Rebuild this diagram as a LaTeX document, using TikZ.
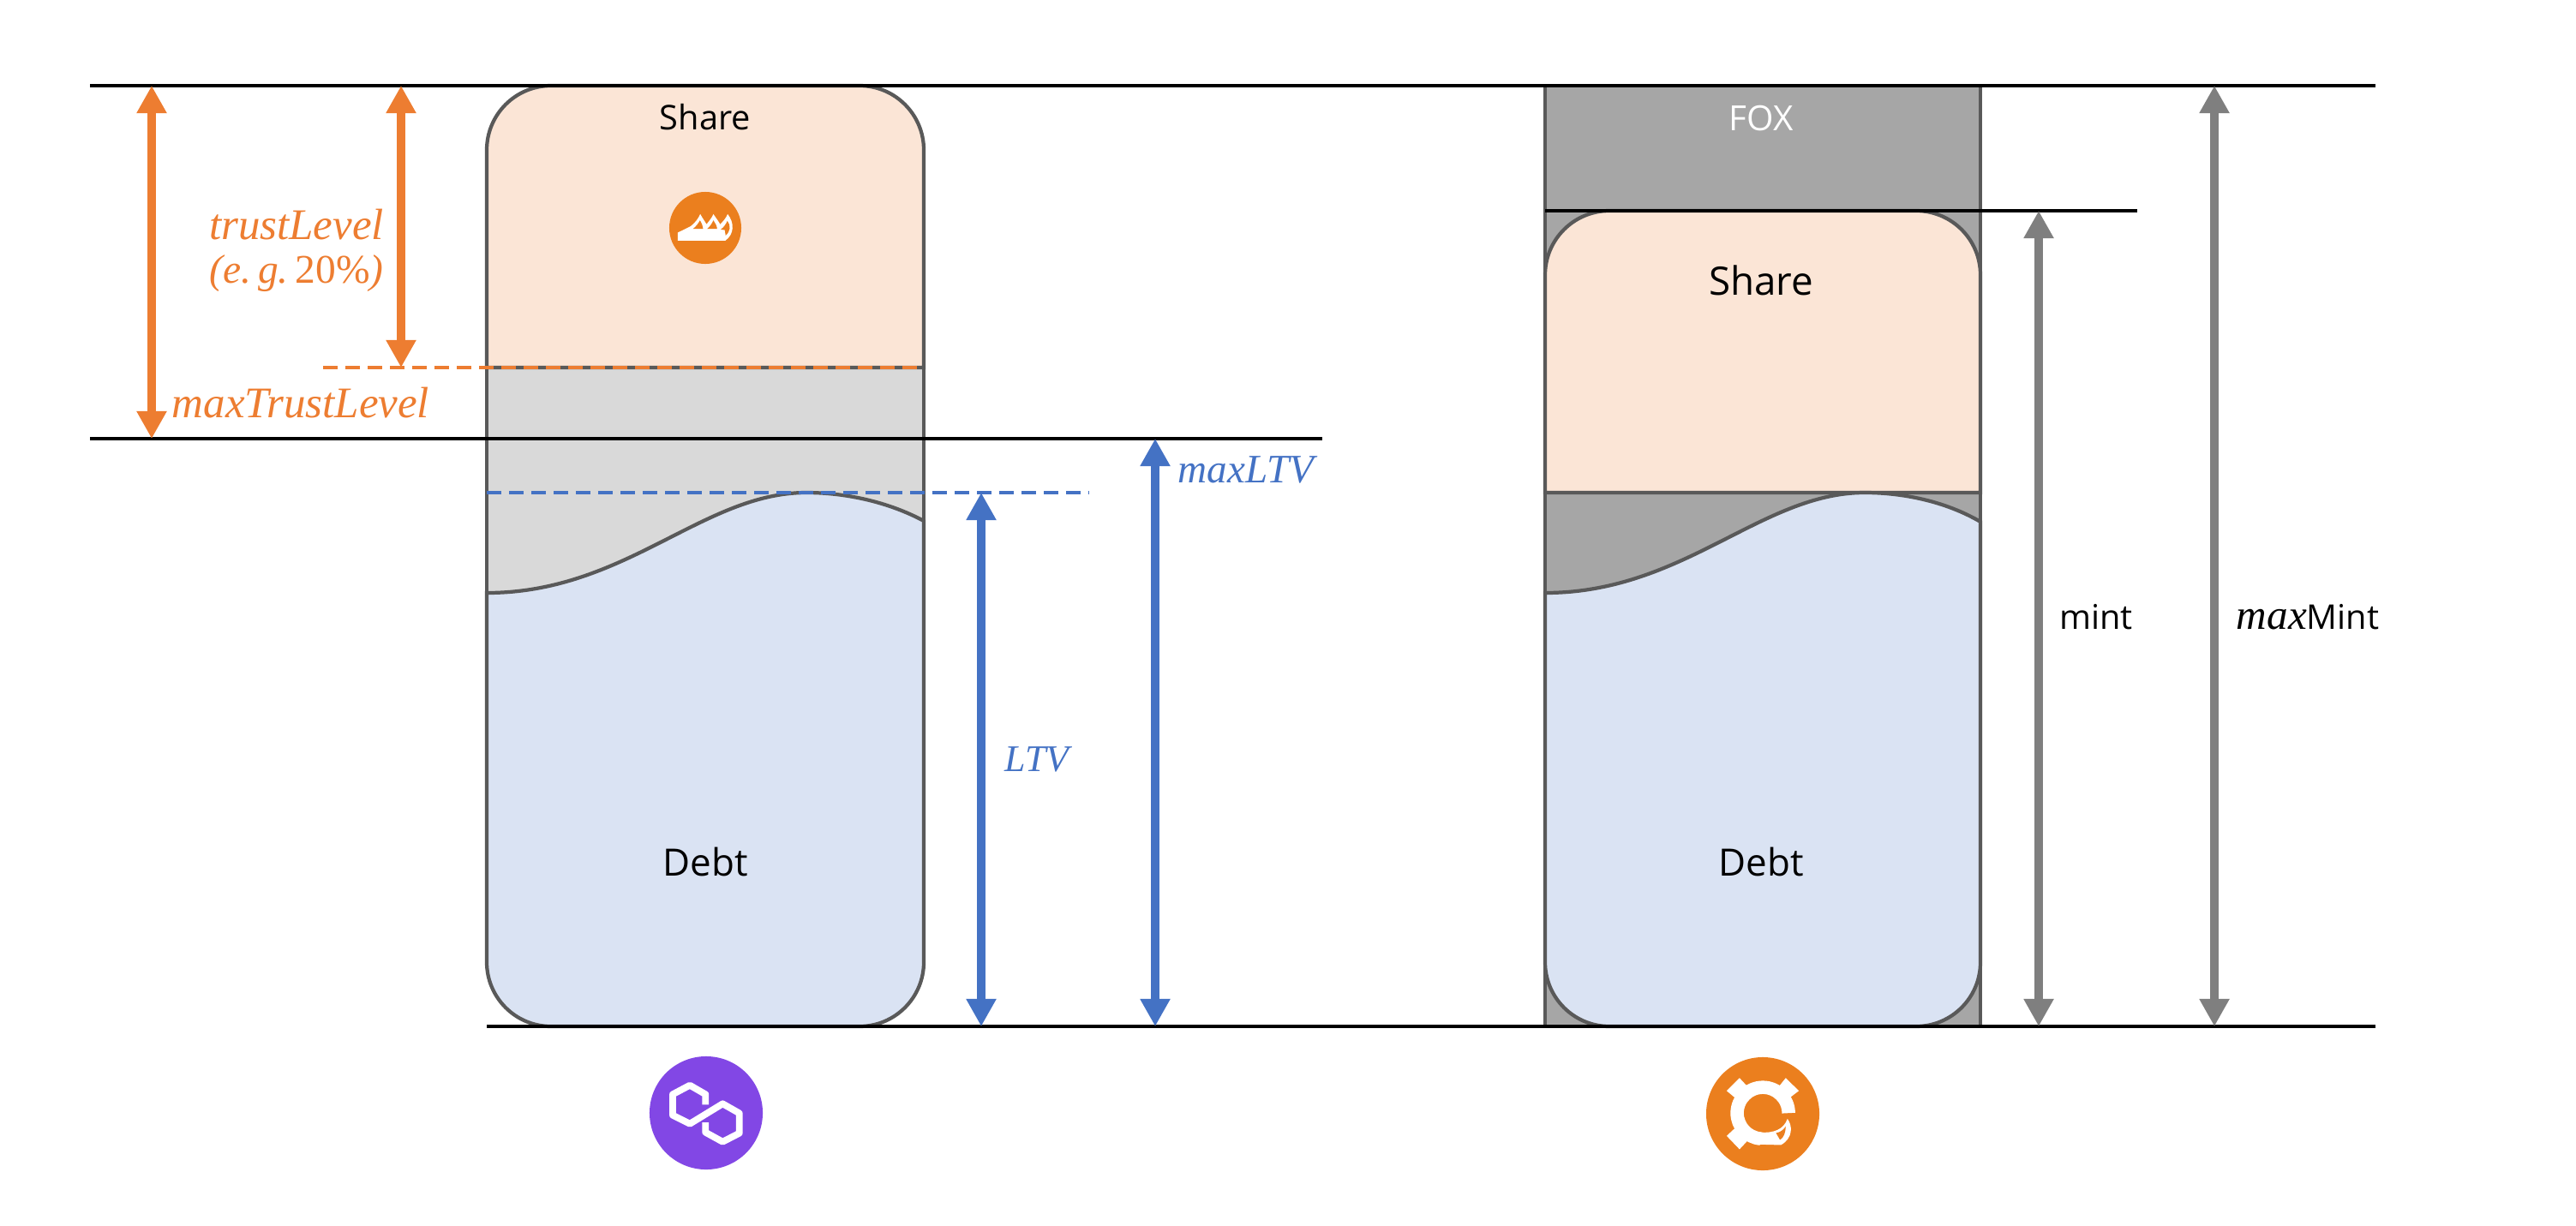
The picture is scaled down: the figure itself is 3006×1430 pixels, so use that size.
\documentclass[tikz,border=0pt]{standalone}
\usepackage{fontspec}
\setmainfont{Open Sans}
\newfontfamily\mathface{Liberation Serif}
\usetikzlibrary{arrows.meta, positioning}
\definecolor{shareFill}{HTML}{FBE5D6}
\definecolor{debtFill}{HTML}{DAE3F3}
\definecolor{bufferFill}{HTML}{D9D9D9}
\definecolor{foxFill}{HTML}{A6A6A6}
\definecolor{barEdge}{HTML}{595959}
\definecolor{orangeAccent}{HTML}{ED7D31}
\definecolor{blueAccent}{HTML}{4472C4}
\definecolor{grayAccent}{HTML}{7F7F7F}
\definecolor{burnOrange}{HTML}{EB7F1E}
\definecolor{polyPurple}{HTML}{8247E5}

\begin{document}
\begin{tikzpicture}[
          x=0.01cm, y=-0.01cm,
          edge/.style={draw=barEdge, line width=1.2pt},
          level/.style={draw=black, line width=1.3pt},
          guide/.style={line width=1.1pt, dash pattern=on 0.17cm off 0.09cm},
          span/.style={{Triangle[length=0.32cm, width=0.33cm]}-{Triangle[length=0.32cm, width=0.33cm]}, line width=0.105cm},
          tag/.style={font=\fontsize{12.5}{15}\selectfont, text=black, inner sep=0pt},
          mathtag/.style={font=\mathface\itshape\fontsize{14.5}{15.5}\selectfont, align=center, inner sep=0pt},
          badge/.style={circle, minimum size=#1, inner sep=0pt, draw=none}
        ]
        \useasboundingbox (0,0) rectangle (3006,1430);

        % left bar
        \filldraw[edge, fill=bufferFill] (568,429) rectangle (1078,700);
        \filldraw[edge, fill=shareFill] (568,429) [rounded corners=0.75cm] -- (568,100) -- (1078,100) [sharp corners] -- (1078,429) -- cycle;
        \filldraw[edge, fill=debtFill] (568,692) .. controls (730,692) and (820,575) .. (941,575) .. controls (985,575) and (1035,585) .. (1078,608) [rounded corners=0.75cm] -- (1078,1198) -- (568,1198) [sharp corners] -- cycle;

        % right bar
        \filldraw[edge, fill=foxFill] (1803,100) rectangle (2311,1198);
        \filldraw[edge, fill=shareFill] (1803,575) [rounded corners=0.75cm] -- (1803,246) -- (2311,246) [sharp corners] -- (2311,575) -- cycle;
        \filldraw[edge, fill=debtFill] (1803,692) .. controls (1965,692) and (2055,575) .. (2176,575) .. controls (2220,575) and (2270,585) .. (2311,609) [rounded corners=0.75cm] -- (2311,1198) -- (1803,1198) [sharp corners] -- cycle;

        % levels
        \coordinate (topL) at (105,100);
        \coordinate (topR) at (2772,100);
        \coordinate (capL) at (105,512);
        \coordinate (capR) at (1543,512);
        \coordinate (mintL) at (1803,246);
        \coordinate (mintR) at (2494,246);
        \coordinate (baseL) at (568,1198);
        \coordinate (baseR) at (2772,1198);
        \draw[level] (topL) -- (topR);
        \draw[level] (capL) -- (capR);
        \draw[level] (mintL) -- (mintR);
        \draw[level] (baseL) -- (baseR);

        \coordinate (trustL) at (377,429);
        \coordinate (trustR) at (1078,429);
        \coordinate (ltvL) at (568,575);
        \coordinate (ltvR) at (1271,575);
        \draw[guide, orangeAccent] (trustL) -- (trustR);
        \draw[guide, blueAccent] (ltvL) -- (ltvR);

        % spans
        \coordinate (a1) at (177,100);
        \coordinate (a2) at (177,512);
        \coordinate (b1) at (468,100);
        \coordinate (b2) at (468,429);
        \coordinate (c1) at (1145,575);
        \coordinate (c2) at (1145,1198);
        \coordinate (d1) at (1348,512);
        \coordinate (d2) at (1348,1198);
        \coordinate (e1) at (2379,246);
        \coordinate (e2) at (2379,1198);
        \coordinate (f1) at (2584,100);
        \coordinate (f2) at (2584,1198);
        \draw[span, orangeAccent] (a1) -- (a2);
        \draw[span, orangeAccent] (b1) -- (b2);
        \draw[span, blueAccent] (c1) -- (c2);
        \draw[span, blueAccent] (d1) -- (d2);
        \draw[span, grayAccent] (e1) -- (e2);
        \draw[span, grayAccent] (f1) -- (f2);

        % labels
        \node[tag, font=\fontsize{11.3}{14}\selectfont] (shareA) at (823,137) {Share};
        \node[tag] (debtA) at (823,1006) {Debt};
        \node[tag, text=white, font=\fontsize{11.5}{14}\selectfont] (fox) at (2055,138) {FOX};
        \node[tag, font=\fontsize{13}{15}\selectfont] (shareB) at (2055,327) {Share};
        \node[tag] (debtB) at (2055,1006) {Debt};
        \node[tag, font=\fontsize{11.3}{14}\selectfont] (mint) at (2446,720) {mint};
        \node[tag, font=\fontsize{11.3}{14}\selectfont] (maxMint) at (2693,720) {{\mathface\itshape\fontsize{14}{16}\selectfont max}Mint};
        \node[mathtag, text=orangeAccent] (trust) at (346,292) {trustLevel\\[-1pt]{\fontsize{13.5}{15}\selectfont(e.\,g.\,{\upshape 20\%})}};
        \node[mathtag, text=orangeAccent] (maxTrust) at (351,470) {maxTrustLevel};
        \node[mathtag, text=blueAccent, font=\mathface\itshape\fontsize{12.5}{15}\selectfont] (ltv) at (1210,886) {LTV};
        \node[mathtag, text=blueAccent, font=\mathface\itshape\fontsize{13.4}{15}\selectfont] (maxLtv) at (1454,548) {maxLTV};

        % burn icon
        \node[badge=0.84cm, fill=burnOrange] (burn) at (823,266) {};
        \begin{scope}[shift={(700,180)}, x=0.00333cm, y=-0.00333cm]
          \fill[white] (273,303) -- (273,275) -- (318,253) .. controls (335,240) and (345,225) .. (352,210) .. controls (360,225) and (368,235) .. (374,246) .. controls (382,235) and (392,225) .. (398,210) .. controls (408,225) and (416,235) .. (422,246) .. controls (432,235) and (442,225) .. (448,210) .. controls (472,240) and (472,280) .. (440,303) -- cycle;
          \fill[burnOrange] (326,262) .. controls (337,254) and (345,243) .. (351,232) .. controls (357,243) and (362,252) .. (362,262) -- cycle;
          \fill[burnOrange] (376,262) .. controls (386,254) and (393,243) .. (398,232) .. controls (405,243) and (411,252) .. (411,262) -- cycle;
          \fill[burnOrange] (424,264) .. controls (435,256) and (442,245) .. (447,234) .. controls (460,250) and (458,270) .. (441,285) -- (438,266) -- cycle;
        \end{scope}

        % chain logos
        \node[badge=1.32cm, fill=polyPurple] (poly) at (824,1299) {};
        \draw[white, line width=0.078cm, line join=round] (823.3,1289.3) -- (823.3,1277.3) -- (805,1266.7) -- (785,1277.3) -- (785,1301.7) -- (805,1311.7) -- (843.3,1288.3) -- (862.7,1299.3) -- (862.7,1322.7) -- (843.3,1332.7) -- (823.3,1321.7) -- (823.3,1310);

        \node[badge=1.32cm, fill=burnOrange] (fantom) at (2057,1300) {};
        \begin{scope}[shift={(1950,1200)}, x=0.00333cm, y=-0.00333cm]
          \draw[white, line width=0.155cm] (412,298) arc[start angle=0, end angle=265, radius=0.30cm];
          \fill[white] (195,220) -- (240,175) -- (268,205) -- (225,245) -- cycle;
          \fill[white] (402,175) -- (448,220) -- (415,245) -- (378,205) -- cycle;
          \fill[white] (195,378) -- (225,350) -- (268,395) -- (240,425) -- cycle;
          \fill[white] (310,365) .. controls (360,370) and (395,355) .. (408,318) .. controls (425,340) and (430,385) .. (385,410) -- (310,408) -- cycle;
          \fill[burnOrange] (368,368) .. controls (385,365) and (395,355) .. (402,345) .. controls (402,365) and (395,385) .. (382,392) -- cycle;
        \end{scope}
      \end{tikzpicture}
\end{document}
